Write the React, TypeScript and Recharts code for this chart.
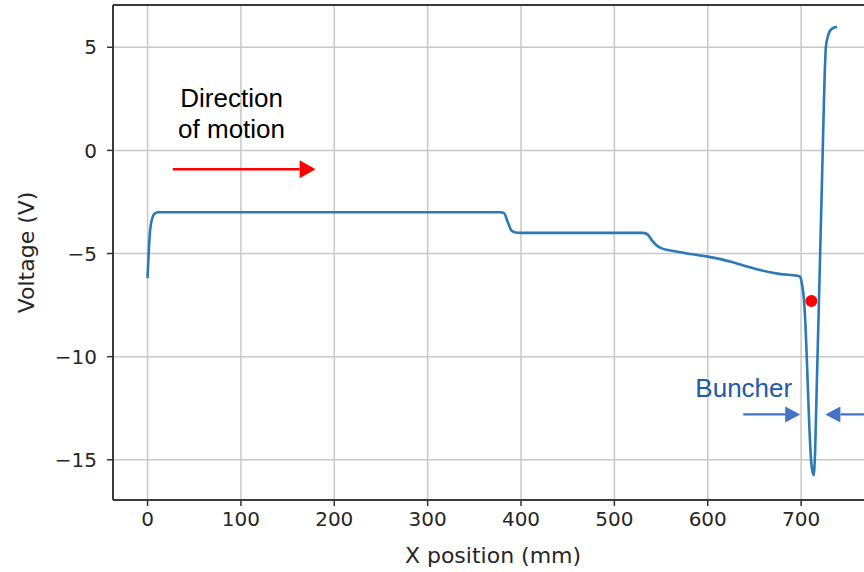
import React from 'react'
import {
  LineChart,
  Line,
  XAxis,
  YAxis,
  CartesianGrid,
  ReferenceLine,
  ReferenceDot,
  Label,
} from 'recharts'

// Potential along the beam line: position (mm) and voltage (V)
const positionMm = [
  0, 2.5, 5, 8, 12, 100, 200, 300, 378, 382, 386, 390, 394, 400, 500, 530, 535,
  540, 545, 550, 560, 575, 600, 625, 640, 656, 678, 696, 699, 701, 703, 705, 707,
  709, 711, 713.4, 715, 717, 719, 721, 723, 725, 726.5, 728.5, 731, 735, 738.5,
]
const voltageV = [
  -6.2, -4.0, -3.3, -3.05, -3.0, -3.0, -3.0, -3.0, -3.0, -3.05, -3.5, -3.9, -3.98,
  -4.0, -4.0, -4.0, -4.05, -4.35, -4.6, -4.74, -4.85, -4.97, -5.15, -5.4, -5.6,
  -5.8, -6.0, -6.08, -6.13, -6.5, -7.2, -8.8, -11.2, -13.6, -15.2, -15.75, -14.6,
  -11.0, -7.5, -3.9, -0.3, 3.3, 5.0, 5.5, 5.8, 5.95, 6.0,
]

const xTicks = [0, 100, 200, 300, 400, 500, 600, 700]
const yTicks = [-15, -10, -5, 0, 5]
const xDomain = [-37, 777]
const yDomain = [-16.95, 7.05]

// marker on the curve and annotation anchors (data coordinates)
const markerPoint = { x: 711, y: -7.3 }
const motionArrow = [{ x: 27, y: -0.91 }, { x: 180, y: -0.91 }]
const bunchLeftArrow = [{ x: 638, y: -12.8 }, { x: 699, y: -12.8 }]
const bunchRightArrow = [{ x: 772, y: -12.8 }, { x: 726, y: -12.8 }]
const motionText = { x: 90, y: 2.12 }
const buncherText = { x: 638.6, y: -11.98 }

const data = positionMm.map((x, i) => ({ x, v: voltageV[i] }))

const tickFont = { fontFamily: 'DejaVu Sans', fontSize: 20, fill: '#262626' }
const axisLabelFont = { fontFamily: 'DejaVu Sans', fontSize: 22, fill: '#262626' }
const noteFont = 'Liberation Sans, Arial, sans-serif'

const fmt = (v: number) => (v < 0 ? `\u2212${Math.abs(v)}` : `${v}`)

// line with a filled triangular head at (x2, y2)
const arrowShape = (color: string, width: number, headLen: number, headHalf: number) =>
  (props: any) => {
    const { x1, y1, x2, y2 } = props
    const dx = x2 - x1
    const dy = y2 - y1
    const len = Math.hypot(dx, dy) || 1
    const ux = dx / len
    const uy = dy / len
    const bx = x2 - ux * headLen
    const by = y2 - uy * headLen
    const pts = [
      `${x2},${y2}`,
      `${bx - uy * headHalf},${by + ux * headHalf}`,
      `${bx + uy * headHalf},${by - ux * headHalf}`,
    ].join(' ')
    return (
      <g>
        <line x1={x1} y1={y1} x2={bx} y2={by} stroke={color} strokeWidth={width} />
        <polygon points={pts} fill={color} />
      </g>
    )
  }

const textShape = (lines: string[], color: string, size: number, lineGap: number) =>
  (props: any) => (
    <text
      x={props.cx}
      y={props.cy}
      textAnchor="middle"
      fontFamily={noteFont}
      fontSize={size}
      fill={color}
    >
      {lines.map((t, i) => (
        <tspan key={i} x={props.cx} dy={i === 0 ? 0 : lineGap}>
          {t}
        </tspan>
      ))}
    </text>
  )

export default function App() {
  return (
    <div
      style={{
        position: 'fixed',
        left: 0,
        top: 0,
        width: 864,
        height: 572,
        overflow: 'hidden',
        background: '#fff',
      }}
    >
      <LineChart
        width={900}
        height={572}
        data={data}
        margin={{ top: 5, right: 27, bottom: 0, left: 0 }}
      >
        <CartesianGrid stroke="#c8c8c8" strokeWidth={1.5} />
        <XAxis
          dataKey="x"
          type="number"
          domain={xDomain}
          ticks={xTicks}
          allowDataOverflow
          height={72}
          tick={tickFont}
          tickSize={6}
          tickMargin={6}
          tickLine={{ stroke: '#333', strokeWidth: 1.5 }}
          axisLine={{ stroke: '#3a3a3a', strokeWidth: 2 }}
        >
          <Label value="X position (mm)" position="insideBottom" offset={9} style={axisLabelFont} />
        </XAxis>
        <YAxis
          type="number"
          domain={yDomain}
          ticks={yTicks}
          allowDataOverflow
          width={113}
          tick={tickFont}
          tickFormatter={fmt}
          tickSize={6}
          tickMargin={10}
          tickLine={{ stroke: '#333', strokeWidth: 1.5 }}
          axisLine={{ stroke: '#3a3a3a', strokeWidth: 2 }}
        >
          <Label
            value="Voltage (V)"
            angle={-90}
            position="insideLeft"
            offset={26}
            style={{ ...axisLabelFont, textAnchor: 'middle' }}
          />
        </YAxis>
        <ReferenceLine y={yDomain[1]} stroke="#3a3a3a" strokeWidth={2} />
        <ReferenceLine x={xDomain[1]} stroke="#3a3a3a" strokeWidth={2} />
        <Line
          type="monotone"
          dataKey="v"
          stroke="#2a7ab8"
          strokeWidth={2.6}
          dot={false}
          isAnimationActive={false}
        />
        <ReferenceDot
          x={markerPoint.x}
          y={markerPoint.y}
          r={6}
          fill="#ff0000"
          stroke="none"
        />
        <ReferenceLine segment={motionArrow} shape={arrowShape('#ff0000', 2.5, 16, 9)} />
        <ReferenceLine segment={bunchLeftArrow} shape={arrowShape('#4472c4', 2.2, 15, 8)} />
        <ReferenceLine segment={bunchRightArrow} shape={arrowShape('#4472c4', 2.2, 15, 8)} />
        <ReferenceDot
          x={motionText.x}
          y={motionText.y}
          r={0}
          shape={textShape(['Direction', 'of motion'], '#000', 26, 31)}
        />
        <ReferenceDot
          x={buncherText.x}
          y={buncherText.y}
          r={0}
          shape={textShape(['Buncher'], '#1f5aa6', 26, 0)}
        />
      </LineChart>
    </div>
  )
}
